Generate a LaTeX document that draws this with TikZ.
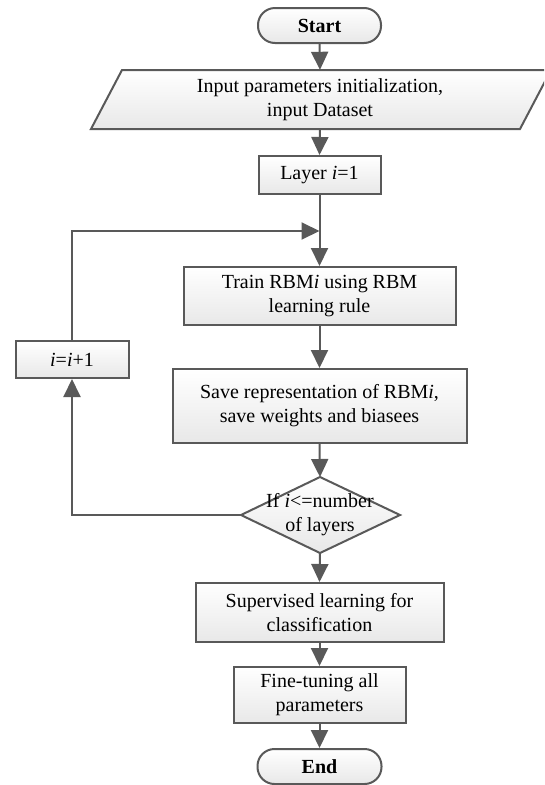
\documentclass[tikz,border=0pt]{standalone}
\usepackage{fontspec}
\setmainfont{Liberation Serif}
\usetikzlibrary{arrows.meta}
\definecolor{edge}{HTML}{595959}
\definecolor{shadebot}{HTML}{E8E8E8}
\newcommand{\chartfont}{\fontsize{20}{24}\selectfont}
\tikzset{
  box/.style={draw=edge, line width=2pt, top color=white, bottom color=shadebot,
    inner sep=0pt, align=center, text=black},
  term/.style={box, rounded corners=17pt, font=\chartfont\bfseries},
  shapefill/.style={draw=edge, line width=2pt, top color=white, bottom color=shadebot, line join=miter},
  lbl/.style={inner sep=0pt, align=center, text=black},
  arr/.style={draw=edge, line width=2pt, -{Triangle[length=18pt,width=17pt]}},
  ln/.style={draw=edge, line width=2pt}
}
\begin{document}
\begin{tikzpicture}[x=1pt, y=-1pt, font=\chartfont]
\useasboundingbox (0,0) rectangle (544,785);
\clip (0,0) rectangle (544,785);

% terminals
\node[term, minimum width=123pt, minimum height=35pt] (start) at (319.5,25.5) {Start};
\node[term, minimum width=124pt, minimum height=35pt] (end) at (319.5,766.5) {End};

% input parallelogram (label node carries the anchors)
\path[shapefill] (122,70) -- (551,70) -- (520,129) -- (91,129) -- cycle;
\node[lbl, minimum width=300pt, minimum height=59pt] (inp) at (320,99.5)
  {Input parameters initialization,\\input Dataset};

% process boxes
\node[box, minimum width=122pt, minimum height=38pt] (layer) at (319.5,175) {Layer \textit{i}=1};
\node[box, minimum width=272pt, minimum height=58pt] (train) at (319.5,296)
  {Train RBM\textit{i} using RBM\\learning rule};
\node[box, minimum width=294pt, minimum height=74pt] (save) at (319.5,406)
  {Save representation of RBM\textit{i},\\save weights and biasees};
\node[box, minimum width=248pt, minimum height=59pt] (sup) at (319.5,612.5)
  {Supervised learning for\\classification};
\node[box, minimum width=172pt, minimum height=56pt] (fine) at (319.5,695)
  {Fine-tuning all\\parameters};
\node[box, minimum width=113pt, minimum height=37pt] (inc) at (72,359.5)
  {\textit{i}=\textit{i}+1};

% decision diamond
\coordinate (dtop) at (320,477);
\coordinate (dright) at (400,515);
\coordinate (dbot) at (320,553);
\coordinate (dleft) at (241,515);
\path[shapefill] (dtop) -- (dright) -- (dbot) -- (dleft) -- cycle;
\node[lbl] (dec) at (320,515) {If \textit{i}<=number\\of layers};

% loop junction above the training box
\coordinate (join) at (319.5,231);

% main flow
\draw[arr] (start.south) -- (inp.north);
\draw[arr] (inp.south) -- (layer.north);
\draw[arr] (layer.south) -- (train.north);
\draw[arr] (train.south) -- (save.north);
\draw[arr] (save.south) -- (dtop);
\draw[arr] (dbot) -- (sup.north);
\draw[arr] (sup.south) -- (fine.north);
\draw[arr] (fine.south) -- (end.north);

% feedback loop
\draw[arr] (dleft) -| (inc.south);
\draw[arr] (inc.north) |- (join);
\end{tikzpicture}
\end{document}
